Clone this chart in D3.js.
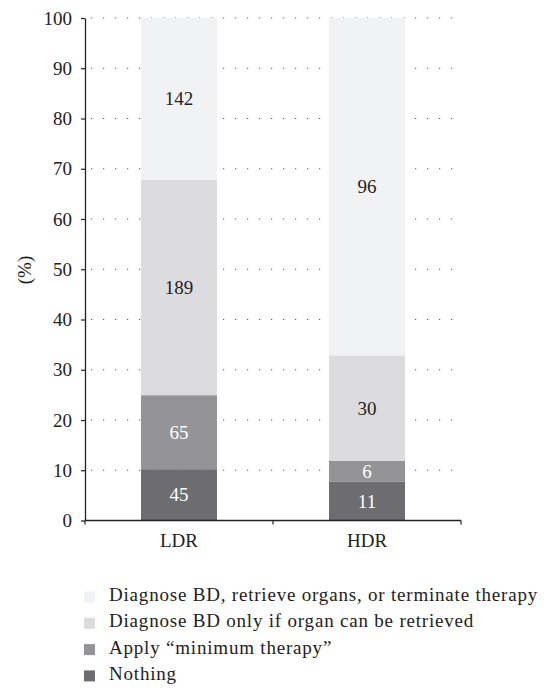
<!DOCTYPE html>
<html><head><meta charset="utf-8">
<script src="https://cdn.jsdelivr.net/npm/d3@7"></script>
<style>body{margin:0;background:#fff}svg{display:block}text{font-family:"Liberation Serif","DejaVu Serif",serif}</style>
</head><body>
<script>
const categories = ["LDR", "HDR"];
const seriesNames = ["Nothing", "Apply \u201cminimum therapy\u201d", "Diagnose BD only if organ can be retrieved", "Diagnose BD, retrieve organs, or terminate therapy"];
const nothing = [45, 11];
const minimumTherapy = [65, 6];
const diagnoseIfRetrieved = [189, 30];
const diagnoseRetrieveTerminate = [142, 96];
const seriesColors = ["#6d6d71", "#949497", "#dcdcde", "#f1f2f4"];
const labelColors = ["#fff", "#fff", "#222", "#222"];
const yTicks = [0,10,20,30,40,50,60,70,80,90,100];

const W = 551, H = 689;
const FS = 19;
const svg = d3.select("body").append("svg").attr("width", W).attr("height", H);
const x0 = 85, x1 = 461, yTop = 18, yBot = 520.5;
const x = d3.scaleBand().domain(categories).range([x0, x1]).paddingInner(0).paddingOuter(0);
const y = d3.scaleLinear().domain([0, 100]).range([yBot, yTop]);
const barW = 76;

// grid
svg.append("g").selectAll("line").data(yTicks.filter(d => d > 0)).join("line")
  .attr("x1", x0 + 6).attr("x2", x1).attr("y1", d => y(d)).attr("y2", d => y(d))
  .attr("stroke", "#555").attr("stroke-width", 1).attr("stroke-dasharray", "1.2,10.8");

const allSeries = [nothing, minimumTherapy, diagnoseIfRetrieved, diagnoseRetrieveTerminate];
const rows = categories.map((c, i) => {
  const o = { cat: c };
  allSeries.forEach((s, k) => o["s" + k] = s[i]);
  return o;
});
const totals = rows.map(r => allSeries.reduce((a, s, k) => a + r["s" + k], 0));
const pct = rows.map((r, i) => { const o = { cat: r.cat }; allSeries.forEach((s, k) => o["s" + k] = r["s" + k] / totals[i] * 100); return o; });
const stack = d3.stack().keys(allSeries.map((s, k) => "s" + k))(pct);

stack.forEach((layer, k) => {
  const g = svg.append("g");
  g.selectAll("rect").data(layer).join("rect")
    .attr("x", d => x(d.data.cat) + (x.bandwidth() - barW) / 2)
    .attr("width", barW)
    .attr("y", d => y(d[1]))
    .attr("height", d => y(d[0]) - y(d[1]))
    .attr("fill", seriesColors[k]);
  g.selectAll("text").data(layer).join("text")
    .attr("x", d => x(d.data.cat) + x.bandwidth() / 2)
    .attr("y", d => (y(d[0]) + y(d[1])) / 2)
    .attr("dy", "0.34em")
    .attr("text-anchor", "middle")
    .attr("font-size", FS)
    .attr("fill", labelColors[k])
    .text((d, i) => allSeries[k][i]);
});

// y axis
const ya = svg.append("g").attr("transform", `translate(${x0},0)`)
  .call(d3.axisLeft(y).tickValues(yTicks).tickSize(4).tickPadding(9).tickSizeOuter(0));
ya.select(".domain").attr("stroke", "#222").attr("stroke-width", 1.3);
ya.selectAll(".tick line").attr("stroke", "#222").attr("stroke-width", 1.2);
ya.selectAll("text").attr("font-size", FS).attr("fill", "#222").attr("font-family", "Liberation Serif");

// x axis
const xa = svg.append("g").attr("transform", `translate(0,${yBot})`);
xa.append("line").attr("x1", x0).attr("x2", x1).attr("y1", 0).attr("y2", 0).attr("stroke", "#222").attr("stroke-width", 1.3);
const bounds = [x0].concat(categories.map(c => x(c) + x.bandwidth()));
xa.selectAll("line.t").data(bounds).join("line").attr("class", "t")
  .attr("x1", d => d).attr("x2", d => d).attr("y1", 0).attr("y2", 4).attr("stroke", "#222").attr("stroke-width", 1.2);
xa.selectAll("text").data(categories).join("text")
  .attr("x", d => x(d) + x.bandwidth() / 2).attr("y", 26.5)
  .attr("text-anchor", "middle").attr("font-size", FS).attr("fill", "#222").text(d => d);

// y label
svg.append("text").attr("transform", "translate(31,270) rotate(-90)")
  .attr("text-anchor", "middle").attr("font-size", FS).attr("fill", "#222").text("(%)");

// legend
const legendOrder = [3, 2, 1, 0];
const lg = svg.append("g").attr("transform", "translate(84,601)");
legendOrder.forEach((k, i) => {
  const row = lg.append("g").attr("transform", `translate(0,${i * 26.3})`);
  row.append("rect").attr("x", 0).attr("y", -9.5).attr("width", 11).attr("height", 11).attr("fill", seriesColors[k]);
  row.append("text").attr("x", 25).attr("y", 0).attr("font-size", FS).attr("letter-spacing", 0.8).attr("fill", "#222").text(seriesNames[k]);
});
</script>
</body></html>
